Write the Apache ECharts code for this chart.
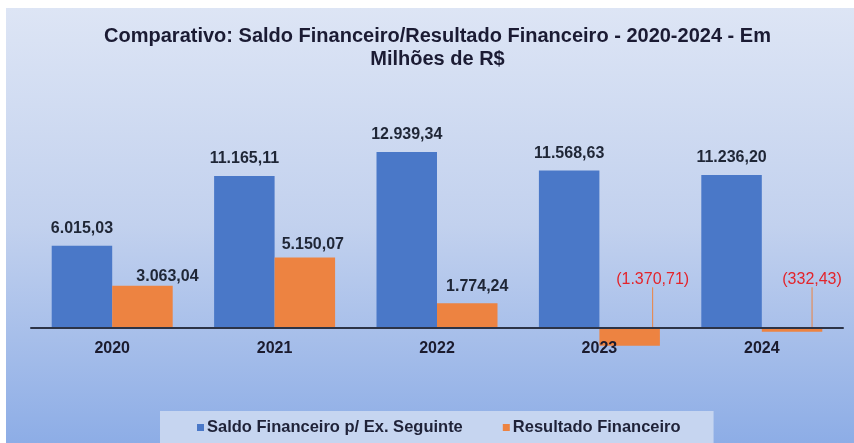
<!DOCTYPE html>
<html>
<head>
<meta charset="utf-8">
<script src="https://cdn.jsdelivr.net/npm/echarts@6/dist/echarts.min.js"></script>
<style>
  html, body { margin: 0; padding: 0; background: #fff; }
  #chart { width: 854px; height: 443px; }
</style>
</head>
<body>
<div id="chart"></div>
<script>
// dados (milhões de R$)
var anos = ["2020", "2021", "2022", "2023", "2024"];
var saldoFinanceiro = [6015.03, 11165.11, 12939.34, 11568.63, 11236.2];
var resultadoFinanceiro = [3063.04, 5150.07, 1774.24, -1370.71, -332.43];
var nomesSeries = ["Saldo Financeiro p/ Ex. Seguinte", "Resultado Financeiro"];
var titulo = ["Comparativo: Saldo Financeiro/Resultado Financeiro - 2020-2024 - Em", "Milhões de R$"];

// formato brasileiro: 12.939,34 e negativos entre parenteses
function fmtBR(v) {
  var s = Math.abs(v).toFixed(2).split(".");
  var inteiro = s[0].replace(/\B(?=(\d{3})+(?!\d))/g, ".");
  var txt = inteiro + "," + s[1];
  return v < 0 ? "(" + txt + ")" : txt;
}

var myChart = echarts.init(document.getElementById("chart"));

// deslocamentos manuais dos rotulos laranja (como no Excel)
var desloc = [[25, 8], [8, 4], [10, 0], [23, -31], [20, -31]];

var estiloTitulo = {
  fontFamily: "Liberation Sans",
  fontSize: 20,
  fontWeight: "bold",
  color: "#1b1b33"
};

var option = {
  animation: false,
  backgroundColor: "#ffffff",
  graphic: [
    {
      type: "rect",
      silent: true,
      z: -10,
      shape: { x: 6, y: 8, width: 848, height: 435 },
      style: {
        fill: new echarts.graphic.LinearGradient(0, 0, 0, 1, [
          { offset: 0, color: "#dde5f5" },
          { offset: 0.5, color: "#c2d1ee" },
          { offset: 1, color: "#8dade6" }
        ])
      }
    }
  ],
  title: [
    { text: titulo[0], left: 437.5, textAlign: "center", top: 26, padding: 0, textStyle: estiloTitulo },
    { text: titulo[1], left: 437.5, textAlign: "center", top: 49, padding: 0, textStyle: estiloTitulo }
  ],
  legend: {
    left: 160,
    top: 411,
    padding: [8, 33, 12, 37],
    backgroundColor: "#c6d5f0",
    itemWidth: 7,
    itemHeight: 7,
    itemGap: 40,
    icon: "rect",
    textStyle: {
      fontFamily: "Liberation Sans",
      fontSize: 16.5,
      fontWeight: "bold",
      color: "#1f2238",
      padding: [0, 0, 0, -2]
    },
    data: nomesSeries
  },
  grid: {
    left: 31,
    right: 11,
    top: 137.6,
    bottom: 88.6
  },
  xAxis: {
    type: "category",
    data: anos,
    z: 10,
    axisTick: { show: false },
    axisLine: { lineStyle: { color: "#2c3346", width: 2 } },
    axisLabel: {
      margin: -14,
      fontFamily: "Liberation Sans",
      fontSize: 16,
      fontWeight: "bold",
      color: "#1b1b2e"
    }
  },
  yAxis: {
    type: "value",
    min: -2000,
    max: 14000,
    show: false,
    splitLine: { show: false }
  },
  series: [
    {
      name: nomesSeries[0],
      type: "bar",
      data: saldoFinanceiro,
      barGap: "0%",
      barCategoryGap: "25.5%",
      itemStyle: { color: "#4a78c8" },
      label: {
        show: true,
        position: "top",
        distance: 9,
        fontFamily: "Liberation Sans",
        fontSize: 16,
        fontWeight: "bold",
        color: "#1f2636",
        formatter: function (p) { return fmtBR(p.value); }
      }
    },
    {
      name: nomesSeries[1],
      type: "bar",
      data: resultadoFinanceiro.map(function (v) {
        if (v >= 0) return v;
        return {
          value: v,
          label: { color: "#e3242b", fontWeight: "normal", position: "top" },
          labelLine: { show: true, lineStyle: { color: "#ed8341", width: 1 } }
        };
      }),
      itemStyle: { color: "#ed8341" },
      label: {
        show: true,
        position: "top",
        distance: 9,
        fontFamily: "Liberation Sans",
        fontSize: 16,
        fontWeight: "bold",
        color: "#1f2636",
        formatter: function (p) { return fmtBR(p.value); }
      },
      labelLayout: function (p) {
        var d = desloc[p.dataIndex];
        return { dx: d[0], dy: d[1] };
      }
    }
  ]
};

myChart.setOption(option);
window.addEventListener("resize", function () {
  myChart.resize();
});
</script>
</body>
</html>
